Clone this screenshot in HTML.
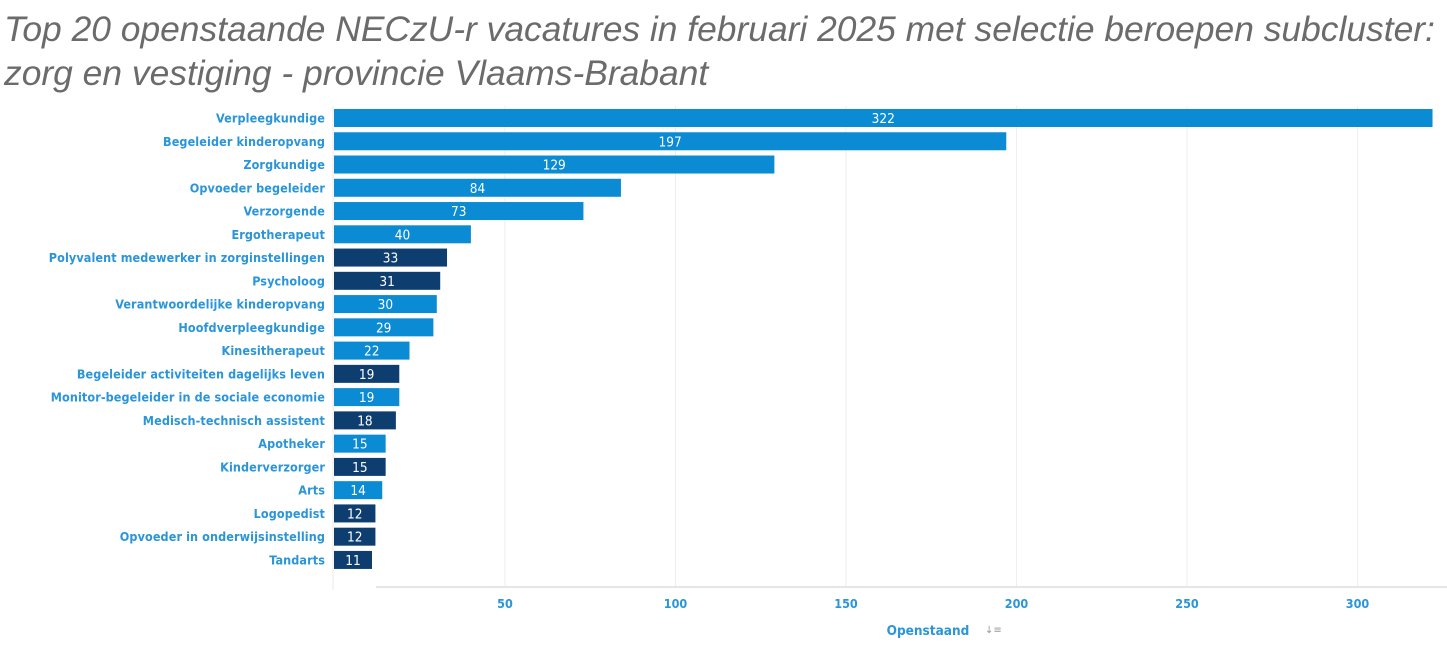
<!DOCTYPE html>
<html><head><meta charset="utf-8"><style>
body{margin:0;background:#fff;width:1447px;height:653px;overflow:hidden;font-family:"Liberation Sans",sans-serif;}
#title{position:absolute;left:4px;top:7px;font-size:35.4px;font-style:italic;color:#6b6b6b;line-height:44px;white-space:nowrap;}
svg{position:absolute;left:0;top:0;}
</style></head><body>
<div id="title">Top 20 openstaande NECzU-r vacatures in februari 2025 met selectie beroepen subcluster:<br>zorg en vestiging - provincie Vlaams-Brabant</div>
<svg id="chart" width="1447" height="653"></svg>
<script>
const categories=["Verpleegkundige","Begeleider kinderopvang","Zorgkundige","Opvoeder begeleider","Verzorgende","Ergotherapeut","Polyvalent medewerker in zorginstellingen","Psycholoog","Verantwoordelijke kinderopvang","Hoofdverpleegkundige","Kinesitherapeut","Begeleider activiteiten dagelijks leven","Monitor-begeleider in de sociale economie","Medisch-technisch assistent","Apotheker","Kinderverzorger","Arts","Logopedist","Opvoeder in onderwijsinstelling","Tandarts"];
const values=[322,197,129,84,73,40,33,31,30,29,22,19,19,18,15,15,14,12,12,11];
const darkFlags=[0,0,0,0,0,0,1,1,0,0,0,1,0,1,0,1,0,1,1,1];
const ticks=[50,100,150,200,250,300];
const NS="http://www.w3.org/2000/svg";
const svg=document.getElementById('chart');
const x=v=>334.5+v*3.41;
const y=i=>118+i*23.26;
const FF='DejaVu Sans Condensed, DejaVu Sans, sans-serif';
function mk(t,a){const e=document.createElementNS(NS,t);for(const k in a)e.setAttribute(k,a[k]);svg.appendChild(e);return e;}
ticks.forEach(t=>{
 const g=mk('line',{x1:x(t),x2:x(t),y1:106,y2:587,stroke:'#eeeeee','stroke-width':1});
 
 
 const l=mk('text',{x:x(t),y:608,'text-anchor':'middle','font-size':12.5,'font-weight':'bold',fill:'#2a95d8','font-family':FF});
 l.textContent=t;
 
 
});
const base=mk('line',{x1:376,x2:1447,y1:587,y2:587,stroke:'#e6e6e6','stroke-width':2});


const yax=mk('line',{x1:333,x2:333,y1:106,y2:590,stroke:'#e8e8e8','stroke-width':1});


categories.forEach((c,i)=>{
 const cy=y(i);
 const r=mk('rect',{x:334,y:cy-9,width:x(values[i])-334,height:18,fill:darkFlags[i]?'#0e3d70':'#0a8bd3'});
 
 
 const v=mk('text',{x:(334+x(values[i]))/2,y:cy+5,'text-anchor':'middle','font-size':13.5,fill:'#fff','font-family':FF});
 v.textContent=values[i];
 
 
 const l=mk('text',{x:325,y:cy+4.5,'text-anchor':'end','font-size':12.5,'font-weight':'bold','letter-spacing':0.1,fill:'#2a95d8','font-family':FF});
 l.textContent=c;
 
 
});
const at=mk('text',{x:928,y:635,'text-anchor':'middle','font-size':13.5,'font-weight':'bold',fill:'#2a95d8','font-family':FF});
at.textContent="Openstaand";


const si=mk('text',{x:985,y:633,'font-size':10,fill:'#999','font-family':'DejaVu Sans, sans-serif'});
si.textContent="↓≡";


</script>
</body></html>
